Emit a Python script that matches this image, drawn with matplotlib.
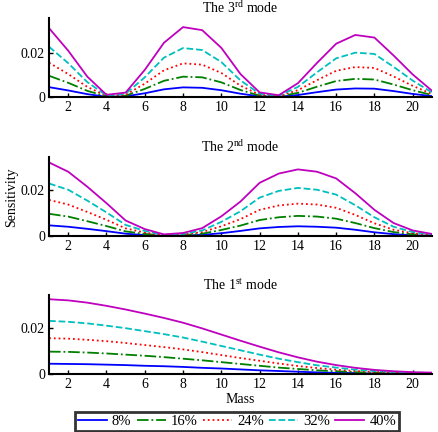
import numpy as np
import matplotlib
matplotlib.use("Agg")
import matplotlib.pyplot as plt

plt.rcParams['font.family'] = ['Liberation Serif', 'DejaVu Serif']
plt.rcParams['mathtext.fontset'] = 'custom'
plt.rcParams['mathtext.rm'] = 'Liberation Serif'
plt.rcParams['font.size'] = 10

mass = np.arange(1, 22)
labels = ["8%", "16%", "24%", "32%", "40%"]

# 3rd mode
m3_8 = [0.0045, 0.0030, 0.0013, 0.0001, 0.0003, 0.0017, 0.0035, 0.0044, 0.0042, 0.0031, 0.0015,
        0.0003, 0.0001, 0.0009, 0.0022, 0.0034, 0.0039, 0.0038, 0.0027, 0.0014, 0.0004]
m3_16 = [0.0097, 0.0065, 0.0028, 0.0003, 0.0006, 0.0037, 0.0074, 0.0093, 0.0090, 0.0067, 0.0032,
         0.0006, 0.0002, 0.0019, 0.0047, 0.0073, 0.0083, 0.0080, 0.0057, 0.0031, 0.0009]
m3_24 = [0.0157, 0.0105, 0.0046, 0.0005, 0.0010, 0.0061, 0.0122, 0.0154, 0.0148, 0.0110, 0.0052,
         0.0010, 0.0004, 0.0031, 0.0077, 0.0120, 0.0137, 0.0133, 0.0094, 0.0051, 0.0014]
m3_32 = [0.0230, 0.0155, 0.0068, 0.0007, 0.0015, 0.0090, 0.0180, 0.0224, 0.0215, 0.0160, 0.0076,
         0.0015, 0.0006, 0.0046, 0.0113, 0.0177, 0.0203, 0.0197, 0.0138, 0.0075, 0.0021]
m3_40 = [0.0315, 0.0212, 0.0093, 0.0010, 0.0020, 0.0124, 0.0248, 0.0320, 0.0306, 0.0225, 0.0105,
         0.0021, 0.0008, 0.0063, 0.0156, 0.0244, 0.0284, 0.0272, 0.0190, 0.0103, 0.0029]

# 2nd mode
m2_8 = [0.0046, 0.0040, 0.0031, 0.0021, 0.0010, 0.0004, 0.0001, 0.0002, 0.0005, 0.0012, 0.0022,
        0.0033, 0.0039, 0.0042, 0.0040, 0.0036, 0.0027, 0.0016, 0.0008, 0.0003, 0.0001]
m2_16 = [0.0096, 0.0084, 0.0064, 0.0043, 0.0020, 0.0009, 0.0002, 0.0004, 0.0010, 0.0026, 0.0045,
         0.0069, 0.0081, 0.0087, 0.0084, 0.0075, 0.0056, 0.0034, 0.0017, 0.0007, 0.0003]
m2_24 = [0.0156, 0.0136, 0.0104, 0.0070, 0.0033, 0.0015, 0.0003, 0.0006, 0.0017, 0.0042, 0.0073,
         0.0113, 0.0132, 0.0140, 0.0136, 0.0122, 0.0091, 0.0055, 0.0027, 0.0012, 0.0004]
m2_32 = [0.0227, 0.0200, 0.0153, 0.0102, 0.0048, 0.0022, 0.0005, 0.0009, 0.0024, 0.0061, 0.0107,
         0.0166, 0.0195, 0.0208, 0.0200, 0.0179, 0.0133, 0.0081, 0.0040, 0.0017, 0.0006]
m2_40 = [0.0318, 0.0278, 0.0213, 0.0142, 0.0067, 0.0030, 0.0007, 0.0013, 0.0034, 0.0085, 0.0149,
         0.0230, 0.0270, 0.0288, 0.0278, 0.0249, 0.0185, 0.0113, 0.0056, 0.0024, 0.0009]

# 1st mode
m1_8 = [0.0045, 0.0044, 0.0043, 0.0041, 0.0039, 0.0036, 0.0034, 0.0031, 0.0027, 0.0024, 0.0020,
        0.0016, 0.0013, 0.0010, 0.0007, 0.0005, 0.0004, 0.0002, 0.0002, 0.0001, 0.0001]
m1_16 = [0.0098, 0.0097, 0.0094, 0.0090, 0.0085, 0.0080, 0.0074, 0.0067, 0.0060, 0.0052, 0.0044,
         0.0036, 0.0028, 0.0022, 0.0016, 0.0012, 0.0008, 0.0005, 0.0004, 0.0002, 0.0002]
m1_24 = [0.0157, 0.0155, 0.0150, 0.0144, 0.0136, 0.0127, 0.0118, 0.0108, 0.0096, 0.0083, 0.0070,
         0.0058, 0.0046, 0.0035, 0.0026, 0.0019, 0.0013, 0.0009, 0.0006, 0.0004, 0.0003]
m1_32 = [0.0233, 0.0229, 0.0222, 0.0212, 0.0201, 0.0188, 0.0175, 0.0160, 0.0142, 0.0123, 0.0104,
         0.0085, 0.0067, 0.0052, 0.0038, 0.0028, 0.0019, 0.0013, 0.0009, 0.0006, 0.0004]
m1_40 = [0.0328, 0.0323, 0.0313, 0.0299, 0.0283, 0.0265, 0.0246, 0.0225, 0.0200, 0.0173, 0.0146,
         0.0120, 0.0095, 0.0073, 0.0054, 0.0039, 0.0027, 0.0018, 0.0012, 0.0008, 0.0006]

colors = ['#0000ff', '#008000', '#ff0000', '#00bfbf', '#bf00bf']
styles = ['-', '-.', ':', '--', '-']

panels = [
    ("The 3$^{\\rm rd}$ mode", [m3_8, m3_16, m3_24, m3_32, m3_40], 0.036, 0.7755),
    ("The 2$^{\\rm nd}$ mode", [m2_8, m2_16, m2_24, m2_32, m2_40], 0.034, 0.4537),
    ("The 1$^{\\rm st}$ mode", [m1_8, m1_16, m1_24, m1_32, m1_40], 0.0345, 0.1343),
]

fig = plt.figure(figsize=(4.38, 4.32), dpi=100)
lines = []
for i, (title, series, ytop, bottom) in enumerate(panels):
    ax = fig.add_axes([0.112, bottom, 0.874, 0.182])
    for s, c, ls, lab in zip(series, colors, styles, labels):
        l, = ax.plot(mass, s, color=c, linestyle=ls, linewidth=1.3, label=lab)
        if i == 0:
            lines.append(l)
    ax.set_xlim(1, 21)
    ax.set_ylim(0, ytop)
    ax.set_xticks(np.arange(2, 21, 2))
    ax.set_yticks([0, 0.02])
    ax.set_yticklabels(["0", "0.02"])
    ax.spines['top'].set_visible(False)
    ax.spines['right'].set_visible(False)
    ax.spines['left'].set_linewidth(1.5)
    ax.spines['bottom'].set_linewidth(1.5)
    ax.tick_params(direction='in', length=3, width=1, pad=3, labelsize=10)
    ax.set_title(title, fontsize=10, pad=4)
    if i == 1:
        ax.set_ylabel("Sensitivity", fontsize=10, labelpad=2)
    if i == 2:
        ax.set_xlabel("Mass", fontsize=10, labelpad=1)

leg = fig.legend(lines, labels, loc='lower center', bbox_to_anchor=(0.541, 0.0), ncol=5,
                 handlelength=2.0, handletextpad=0.35, columnspacing=0.35, fontsize=10.5,
                 frameon=True, fancybox=False, borderpad=0.2, borderaxespad=0.1)
leg.get_frame().set_edgecolor('black')
leg.get_frame().set_linewidth(2)

fig.savefig("out.png", dpi=100)
